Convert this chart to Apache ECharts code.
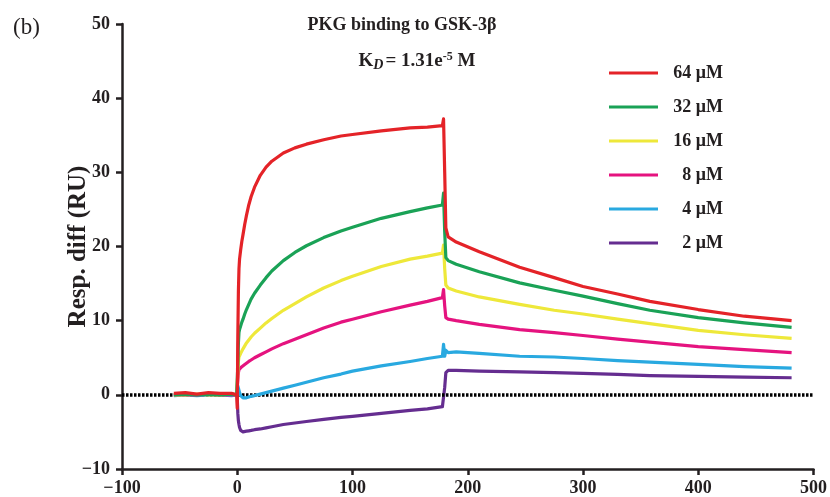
<!DOCTYPE html>
<html>
<head>
<meta charset="utf-8">
<script src="https://cdn.jsdelivr.net/npm/echarts@6/dist/echarts.min.js"></script>
<style>
html,body{margin:0;padding:0;background:#fff;}
#chart{width:830px;height:497px;}
</style>
</head>
<body>
<div id="chart"></div>
<script>
// Time (s) sample points shared by all curves
const time = [-55,-45,-35,-25,-15,-5,-0.5,
  0,0.5,1,1.5,2,3,4,5,6.5,8,10,12,15,20,25,30,40,50,60,75,90,100,125,150,165,178,
  179,180,181,183,
  190,210,245,275,300,330,358,400,440,481];

const names = ['64 μM','32 μM','16 μM','8 μM','4 μM','2 μM'];

const red64 = [0.2,0.3,0.1,0.3,0.2,0.2,0.0,
  -1.8,8,14,17,18.3,19.6,20.7,21.6,23,24.2,25.6,26.7,28,29.6,30.7,31.5,32.6,33.3,33.8,34.4,34.9,35.1,35.6,36.0,36.1,36.3,
  37.2,30,22.5,21.3,
  20.6,19.3,17.2,15.8,14.6,13.6,12.6,11.5,10.6,10.0];
const green32 = [0,0.1,0,0.1,0,0.1,0,
  0,4,7,8.4,8.8,9.3,9.8,10.2,10.9,11.5,12.2,12.9,13.7,14.8,15.8,16.7,18.1,19.2,20.1,21.2,22.1,22.6,23.8,24.7,25.2,25.6,
  27.2,22,18.5,18.1,
  17.6,16.6,15.1,14.1,13.3,12.3,11.4,10.4,9.7,9.1];
const yellow16 = [0,0,0.1,0,0,0.1,0,
  0,3,4.5,5.1,5.3,5.6,5.9,6.2,6.6,7.0,7.4,7.8,8.3,9.0,9.7,10.3,11.4,12.3,13.2,14.4,15.4,16.0,17.3,18.3,18.7,19.1,
  20.2,17,14.8,14.4,
  14.0,13.2,12.2,11.4,10.9,10.2,9.6,8.7,8.1,7.6];
const magenta8 = [0,0,0,0.1,0,0,0,
  0,2,3.0,3.4,3.5,3.6,3.8,3.9,4.1,4.3,4.5,4.7,5.0,5.4,5.8,6.2,6.9,7.5,8.1,9.0,9.8,10.2,11.2,12.1,12.6,13.1,
  14.2,12,10.4,10.2,
  10.0,9.5,8.8,8.4,8.0,7.5,7.1,6.5,6.1,5.7];
const cyan4 = [-0.1,0,-0.1,0,0,-0.1,0,
  0.3,1.2,0.9,0.6,0.3,-0.1,-0.3,-0.4,-0.45,-0.4,-0.3,-0.2,-0.1,0.1,0.3,0.5,0.9,1.3,1.7,2.3,2.8,3.2,3.9,4.5,4.9,5.2,
  6.8,5.2,6.0,5.7,
  5.8,5.6,5.2,5.1,4.9,4.6,4.4,4.1,3.8,3.6];
const purple2 = [0,0,0,0,0,0,0,
  -0.3,-2.5,-3.5,-4,-4.4,-4.8,-4.95,-5.0,-5.0,-4.9,-4.85,-4.8,-4.7,-4.6,-4.45,-4.3,-4.0,-3.8,-3.6,-3.3,-3.05,-2.9,-2.5,-2.1,-1.9,-1.6,
  -1.4,1,3.0,3.3,
  3.3,3.2,3.1,3.0,2.9,2.75,2.6,2.5,2.4,2.3];

const values = [red64, green32, yellow16, magenta8, cyan4, purple2];
const colors = ['#E42328','#1AA256','#EEE83A','#E5137F','#29A9E0','#652D90'];

const xTicks = {min:-100, max:500, interval:100};
const yTicks = {min:-10, max:50, interval:10};

const FONT = '"Liberation Serif","Times New Roman",serif';
const INK = '#231F20';

const series = [];
for (let i = names.length - 1; i >= 0; i--) {
  series.push({
    name: names[i],
    type: 'line',
    data: time.map((t, k) => [t, values[i][k]]),
    showSymbol: false,
    symbol: 'none',
    smooth: false,
    lineStyle: {color: colors[i], width: 3.2, join: 'round'},
    itemStyle: {color: colors[i]},
    z: 3 + (names.length - i),
    animation: false
  });
}
series.push({
  name: 'zero',
  type: 'line',
  data: [],
  z: 2,
  markLine: {
    silent: true,
    symbol: 'none',
    label: {show: false},
    lineStyle: {color: '#000', width: 3.5, type: [2.5, 1.5]},
    data: [{yAxis: 0}],
    animation: false
  }
});

const chart = echarts.init(document.getElementById('chart'), null, {renderer: 'canvas'});
chart.setOption({
  animation: false,
  backgroundColor: '#fff',
  grid: {left: 122, right: 15, top: 24, bottom: 26},
  title: [
    {
      text: 'PKG binding to GSK-3β',
      left: 397, top: 11, textAlign: 'center',
      textStyle: {fontFamily: FONT, fontWeight: 'bold', fontSize: 18, color: INK}
    },
    {
      text: '{k|K}{d|D}{k|= 1.31e}{s|-5}{k| M}',
      left: 412, top: 43, textAlign: 'center',
      textStyle: {
        fontFamily: FONT, fontWeight: 'bold', fontSize: 19, color: INK, lineHeight: 26,
        rich: {
          k: {fontFamily: FONT, fontWeight: 'bold', fontSize: 19, color: INK, lineHeight: 26, verticalAlign: 'middle'},
          d: {fontFamily: FONT, fontWeight: 'bold', fontStyle: 'italic', fontSize: 14, color: INK, lineHeight: 26, verticalAlign: 'bottom', padding: [0, 2, 2, 0]},
          s: {fontFamily: FONT, fontWeight: 'bold', fontSize: 12, color: INK, lineHeight: 26, verticalAlign: 'top', padding: [3, 0, 0, 0]}
        }
      }
    },
    {
      text: '(b)',
      left: 8, top: 11,
      textStyle: {fontFamily: FONT, fontWeight: 'normal', fontSize: 23, color: INK}
    }
  ],
  legend: {
    orient: 'vertical',
    left: 604, top: 58,
    data: names.map(n => ({name: n, icon: 'rect'})),
    itemWidth: 49, itemHeight: 3,
    itemGap: 14,
    formatter: n => '{a|' + n + '}',
    textStyle: {
      fontFamily: FONT, fontWeight: 'bold', fontSize: 18, color: INK, lineHeight: 20,
      rich: {a: {fontFamily: FONT, fontWeight: 'bold', fontSize: 18, color: INK, width: 60, align: 'right', lineHeight: 20}}
    },
    selectedMode: false
  },
  xAxis: {
    type: 'value',
    min: xTicks.min, max: xTicks.max, interval: xTicks.interval,
    axisLine: {show: true, onZero: false, lineStyle: {color: INK, width: 2.5}},
    axisTick: {show: true, inside: false, length: 6, lineStyle: {color: INK, width: 2.5}},
    axisLabel: {fontFamily: FONT, fontWeight: 'bold', fontSize: 18, color: INK, margin: 10,
      formatter: v => (v < 0 ? '\u2212' + Math.abs(v) : String(v))},
    splitLine: {show: false}
  },
  yAxis: {
    type: 'value',
    min: yTicks.min, max: yTicks.max, interval: yTicks.interval,
    name: 'Resp. diff (RU)',
    nameLocation: 'middle',
    nameGap: 31,
    nameMoveOverlap: false,
    nameTextStyle: {fontFamily: FONT, fontWeight: 'bold', fontSize: 25, color: INK},
    axisLine: {show: true, onZero: false, lineStyle: {color: INK, width: 2.5}},
    axisTick: {show: true, inside: false, length: 6, lineStyle: {color: INK, width: 2.5}},
    axisLabel: {fontFamily: FONT, fontWeight: 'bold', fontSize: 18, color: INK, margin: 12,
      formatter: v => (v < 0 ? '\u2212' + Math.abs(v) : String(v))},
    splitLine: {show: false}
  },
  series: series
});
</script>
</body>
</html>
